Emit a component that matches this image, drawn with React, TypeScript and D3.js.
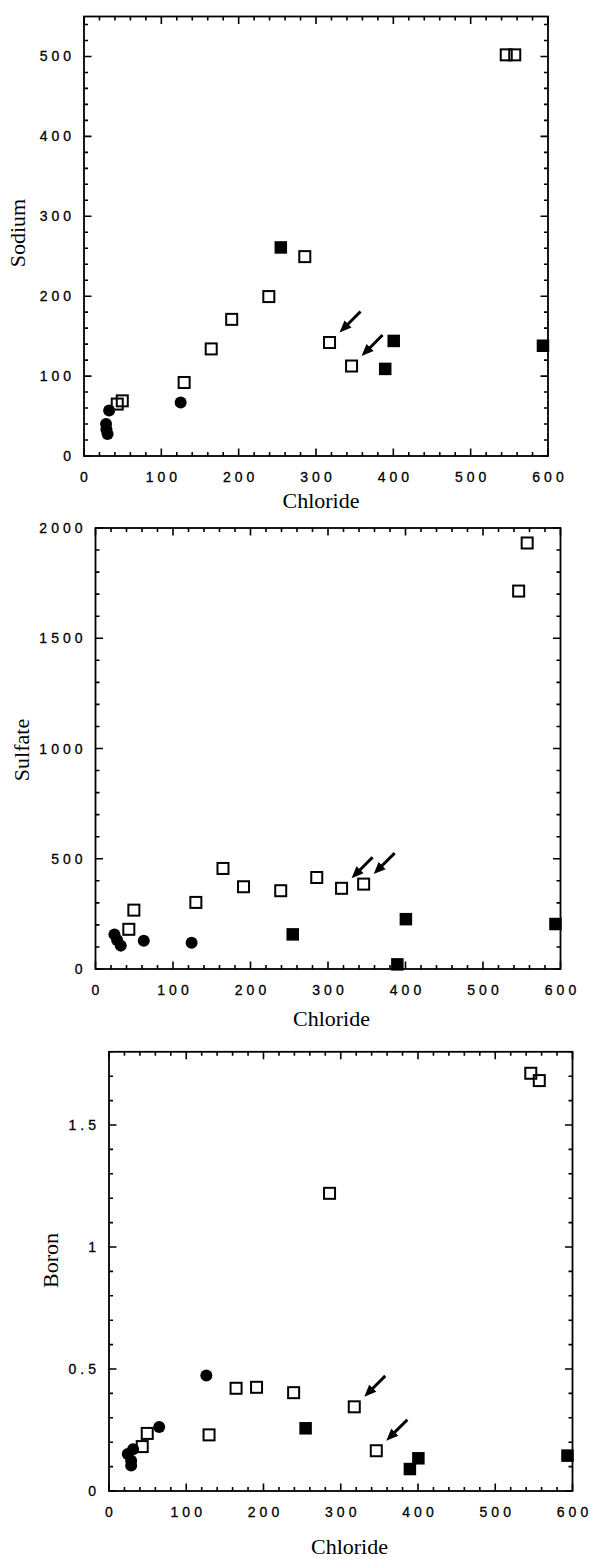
import React from "react";
import * as d3 from "d3";

// Chloride (x) shared by the square-marker samples in every panel
const openChloride = [43, 49.5, 129.5, 164.5, 191, 239, 285.5, 317.5, 346, 546, 557];
const filledChloride = [254.5, 389.5, 400.5, 593.5];

// Sodium
const openSodium = [65, 69, 92, 134, 171, 199.5, 249.5, 142, 112.6, 502, 502];
const filledSodium = [261, 109, 144, 138];
const circleChlorideNa = [125, 32.5, 28.5, 29, 30.5];
const circleSodium = [67, 57, 40, 33.5, 27.5];

// Sulfate
const openSulfate = [180, 267, 302, 456, 373, 355, 415, 366, 385, 1714, 1932];
const filledSulfate = [157, 21, 226, 204];
const circleChlorideSO4 = [124, 62.3, 24.4, 27.8, 32.6];
const circleSulfate = [119, 128, 157, 131, 106];

// Boron
const openBoron = [0.182, 0.236, 0.23, 0.421, 0.425, 0.403, 1.22, 0.345, 0.165, 1.712, 1.682];
const filledBoron = [0.257, 0.09, 0.134, 0.145];
const circleChlorideB = [126, 65, 31.2, 24.3, 28.7, 28.7];
const circleBoron = [0.473, 0.262, 0.171, 0.152, 0.124, 0.104];

// samples flagged with arrows (indices into the open-square series)
const arrowed = [7, 8];

const xTickLabels = ["0", "100", "200", "300", "400", "500", "600"];

type PanelSpec = {
  label: string;
  left: number;
  right: number;
  top: number;
  bottom: number;
  yMax: number;
  yMajor: number;
  yMinor: number;
  yLabelX: number;
  yLabelY: number;
  xLabelX: number;
  xLabelY: number;
  open: number[];
  filled: number[];
  circleX: number[];
  circleY: number[];
};

const panels: PanelSpec[] = [
  {
    label: "Sodium",
    left: 84, right: 548, top: 16.5, bottom: 456,
    yMax: 550, yMajor: 100, yMinor: 20,
    yLabelX: 25, yLabelY: 233, xLabelX: 321, xLabelY: 508,
    open: openSodium, filled: filledSodium,
    circleX: circleChlorideNa, circleY: circleSodium,
  },
  {
    label: "Sulfate",
    left: 95.5, right: 560.5, top: 528, bottom: 969,
    yMax: 2000, yMajor: 500, yMinor: 100,
    yLabelX: 29, yLabelY: 750, xLabelX: 331.5, xLabelY: 1026,
    open: openSulfate, filled: filledSulfate,
    circleX: circleChlorideSO4, circleY: circleSulfate,
  },
  {
    label: "Boron",
    left: 109, right: 572.5, top: 1051.8, bottom: 1491,
    yMax: 1.8, yMajor: 0.5, yMinor: 0.1,
    yLabelX: 58, yLabelY: 1260.5, xLabelX: 349.5, xLabelY: 1554,
    open: openBoron, filled: filledBoron,
    circleX: circleChlorideB, circleY: circleBoron,
  },
];

const TICK_FONT = "'Liberation Sans', Arial, Helvetica, sans-serif";
const TITLE_FONT = "'Liberation Serif', 'Times New Roman', serif";
const TICK_SIZE = 14;
const TRACKING = 4;
const MAJOR = 7.5;
const MINOR = 4;

function fmt(v: number) {
  return String(+v.toFixed(2));
}

// widely tracked tick label width (Helvetica metrics: digits .556em, period .278em)
function trackedWidth(s: string) {
  let w = 0;
  for (const ch of s) w += ch === "." ? 0.278 : 0.556;
  return w * TICK_SIZE + (s.length - 1) * TRACKING;
}

function TickText({ s, x, y, anchor }: { s: string; x: number; y: number; anchor: "middle" | "end" }) {
  const props: any = {};
  if (s.length > 1) {
    props.textLength = trackedWidth(s);
    props.lengthAdjust = "spacing";
  }
  return (
    <text
      x={x}
      y={y}
      textAnchor={anchor}
      fontFamily={TICK_FONT}
      fontSize={TICK_SIZE}
      fill="#000"
      stroke="#000"
      strokeWidth={0.3}
      {...props}
    >
      {s}
    </text>
  );
}

function Arrow({ x, y }: { x: number; y: number }) {
  // arrow from upper right pointing down-left toward the marker
  const tail: [number, number] = [x + 31, y - 31];
  const tip: [number, number] = [x + 10, y - 10];
  const dx = tip[0] - tail[0];
  const dy = tip[1] - tail[1];
  const len = Math.hypot(dx, dy);
  const ux = dx / len;
  const uy = dy / len;
  const headLen = 12;
  const halfW = 5;
  const base: [number, number] = [tip[0] - ux * headLen, tip[1] - uy * headLen];
  const px = -uy;
  const py = ux;
  const head = [
    tip,
    [base[0] + px * halfW, base[1] + py * halfW],
    [base[0] - px * halfW, base[1] - py * halfW],
  ];
  return (
    <g>
      <line x1={tail[0]} y1={tail[1]} x2={base[0] + ux * 2} y2={base[1] + uy * 2} stroke="#000" strokeWidth={3} />
      <polygon points={head.map((p) => p.join(",")).join(" ")} fill="#000" />
    </g>
  );
}

function Panel({ p }: { p: PanelSpec }) {
  const x = d3.scaleLinear().domain([0, 600]).range([p.left, p.right]);
  const y = d3.scaleLinear().domain([0, p.yMax]).range([p.bottom, p.top]);

  const xMinorStep = 20;
  const xTicks = d3.range(0, 600 / xMinorStep + 1).map((i) => ({
    v: i * xMinorStep,
    major: i % 5 === 0,
  }));
  const ratio = Math.round(p.yMajor / p.yMinor);
  const nY = Math.floor(p.yMax / p.yMinor + 1e-6);
  const yTicks = d3.range(0, nY + 1).map((i) => ({
    v: i * p.yMinor,
    major: i % ratio === 0,
  }));

  const sq = 11;
  const fsq = 12.5;

  const tickPath: string[] = [];
  xTicks.forEach((t) => {
    const len = t.major ? MAJOR : MINOR;
    const xv = x(t.v);
    tickPath.push(`M${xv},${p.bottom}V${p.bottom - len}`);
    tickPath.push(`M${xv},${p.top}V${p.top + len}`);
  });
  yTicks.forEach((t) => {
    const len = t.major ? MAJOR : MINOR;
    const yv = y(t.v);
    tickPath.push(`M${p.left},${yv}H${p.left + len}`);
    tickPath.push(`M${p.right},${yv}H${p.right - len}`);
  });

  return (
    <g>
      {/* frame */}
      <rect
        x={p.left}
        y={p.top}
        width={p.right - p.left}
        height={p.bottom - p.top}
        fill="none"
        stroke="#000"
        strokeWidth={1.8}
      />
      {/* inward ticks on all four sides */}
      <path d={tickPath.join("")} stroke="#000" strokeWidth={1.6} fill="none" />
      {/* x tick labels */}
      {xTickLabels.map((s, i) => (
        <TickText key={"xl" + i} s={s} x={x(+s)} y={p.bottom + 26} anchor="middle" />
      ))}
      {/* y tick labels */}
      {yTicks
        .filter((t) => t.major)
        .map((t, i) => (
          <TickText key={"yl" + i} s={fmt(t.v)} x={p.left - 13} y={y(t.v) + 5} anchor="end" />
        ))}
      {/* axis titles */}
      <text
        x={p.xLabelX}
        y={p.xLabelY}
        textAnchor="middle"
        fontFamily={TITLE_FONT}
        fontSize={22}
        fill="#000"
      >
        Chloride
      </text>
      <text
        transform={`translate(${p.yLabelX},${p.yLabelY}) rotate(-90)`}
        textAnchor="middle"
        fontFamily={TITLE_FONT}
        fontSize={22}
        fill="#000"
      >
        {p.label}
      </text>
      {/* circles */}
      {p.circleX.map((c, i) => (
        <circle key={"c" + i} cx={x(c)} cy={y(p.circleY[i])} r={6} fill="#000" />
      ))}
      {/* filled squares */}
      {filledChloride.map((c, i) => (
        <rect
          key={"f" + i}
          x={x(c) - fsq / 2}
          y={y(p.filled[i]) - fsq / 2}
          width={fsq}
          height={fsq}
          fill="#000"
        />
      ))}
      {/* open squares */}
      {openChloride.map((c, i) => (
        <rect
          key={"o" + i}
          x={x(c) - sq / 2}
          y={y(p.open[i]) - sq / 2}
          width={sq}
          height={sq}
          fill="none"
          stroke="#000"
          strokeWidth={2}
        />
      ))}
      {/* arrows */}
      {arrowed.map((idx) => (
        <Arrow key={"a" + idx} x={x(openChloride[idx])} y={y(p.open[idx])} />
      ))}
    </g>
  );
}

export default function App() {
  return (
    <svg
      width={590}
      height={1559}
      viewBox="0 0 590 1559"
      style={{ position: "absolute", left: 0, top: 0, background: "#fff" }}
    >
      <rect x={0} y={0} width={590} height={1559} fill="#fff" />
      {panels.map((p) => (
        <Panel key={p.label} p={p} />
      ))}
    </svg>
  );
}
